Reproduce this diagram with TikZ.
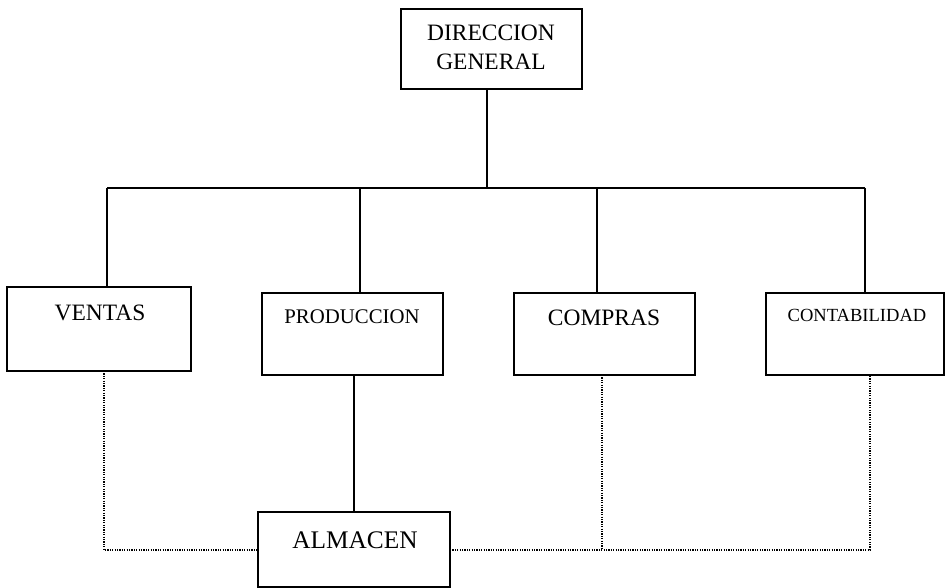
\documentclass[tikz,border=0pt]{standalone}
\usepackage{fontspec}
\setmainfont{Liberation Serif}
\begin{document}
\begin{tikzpicture}[x=0.75pt,y=-0.75pt,
  box/.style={draw, line width=1.7pt, inner sep=0pt, outer sep=0pt},
  lbl/.style={inner sep=0pt, outer sep=0pt, align=center},
  big/.style={font=\fontsize{17.6pt}{21.75pt}\selectfont},
  conn/.style={line width=1.5pt},
  dots/.style={line width=1.2pt, dash pattern=on 0.9pt off 0.9pt}]
\useasboundingbox (0,0) rectangle (946,588);
% boxes
\node[box, minimum width=135.75pt, minimum height=60pt] (dg) at (491.5,49) {};
\node[box, minimum width=138pt, minimum height=63pt] (ventas) at (99,329) {};
\node[box, minimum width=135.75pt, minimum height=61.5pt] (prod) at (352.5,334) {};
\node[box, minimum width=135.75pt, minimum height=61.5pt] (compras) at (604.5,334) {};
\node[box, minimum width=133.5pt, minimum height=61.5pt] (cont) at (855,334) {};
\node[box, minimum width=144pt, minimum height=56.25pt] (alm) at (354,549.5) {};
% texts
\node[lbl, big] (tdg) at (491,47.5) {DIRECCION\\GENERAL};
\node[lbl, big] (tventas) at (100,313) {VENTAS};
\node[lbl, font=\fontsize{15.6pt}{18pt}\selectfont] (tprod) at (352,317) {PRODUCCION};
\node[lbl, big] (tcompras) at (604,318) {COMPRAS};
\node[lbl, font=\fontsize{13.9pt}{16pt}\selectfont] (tcont) at (857,315) {CONTABILIDAD};
\node[lbl, font=\fontsize{19pt}{22pt}\selectfont] (talm) at (355,540) {ALMACEN};
% bus coordinates
\coordinate (busM) at (487,188);
\coordinate (busL) at (107,188);
\coordinate (busP) at (360,188);
\coordinate (busC) at (597,188);
\coordinate (busR) at (865,188);
\coordinate (pa) at (354,450);
% solid connectors
\draw[conn] (busM |- dg.south) -- (busM);
\draw[conn] (busL) -- (busR);
\draw[conn] (busL) -- (busL |- ventas.north);
\draw[conn] (busP) -- (busP |- prod.north);
\draw[conn] (busC) -- (busC |- compras.north);
\draw[conn] (busR) -- (busR |- cont.north);
\draw[conn] (pa |- prod.south) -- (pa |- alm.north);
% dotted connectors
\coordinate (dl) at (104,550);
\coordinate (dc) at (602,550);
\coordinate (dr) at (870,550);
\draw[dots] (dl |- ventas.south) -- (dl) -- (alm.west |- dl);
\draw[dots] (alm.east |- dr) -- (dr) -- (dr |- cont.south);
\draw[dots] (dc |- compras.south) -- (dc);
\end{tikzpicture}
\end{document}
